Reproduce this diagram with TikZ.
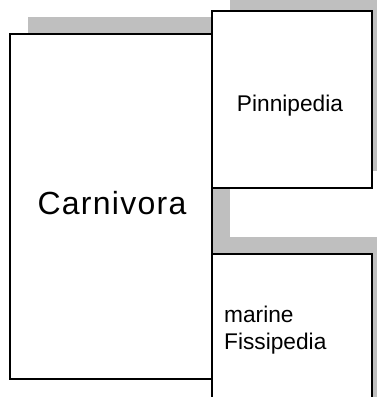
\documentclass[tikz,border=0pt]{standalone}
\usepackage{fontspec}
\setmainfont{Liberation Sans}
\begin{document}
\begin{tikzpicture}[x=1pt,y=-1pt,
  box/.style={draw=black, line width=2.4pt, fill=white, rectangle, inner sep=0pt, outer sep=0pt},
  shadowfill/.style={fill=black!25, draw=none},
  lbl/.style={inner sep=0pt, text=black, font=\fontsize{22.7}{27}\selectfont},
  biglbl/.style={inner sep=0pt, text=black, font=\fontsize{32}{38}\selectfont\addfontfeature{LetterSpace=4}}]
\useasboundingbox (0,0) rectangle (377,397);
\clip (0,0) rectangle (377,397);
% shadows
\fill[shadowfill] (28,17) rectangle (230,362);
\fill[shadowfill] (230,-6) rectangle (390,171);
\fill[shadowfill] (230,237) rectangle (390,403);
% boxes
\node[box, minimum width=202pt, minimum height=345pt] (carn) at (111,206.5) {};
\node[box, minimum width=160pt, minimum height=177pt] (pinn) at (292,99.5) {};
\node[box, minimum width=160pt, minimum height=166pt] (fiss) at (292,337) {};
% labels
\node[biglbl, anchor=base] (carntext) at (112,214) {Carnivora};
\node[lbl, anchor=base] (pinntext) at (290,111) {Pinnipedia};
\node[lbl, anchor=base west] (marinetext) at (224,322) {marine};
\node[lbl, anchor=base west] (fisstext) at (224,349) {Fissipedia};
\end{tikzpicture}
\end{document}
